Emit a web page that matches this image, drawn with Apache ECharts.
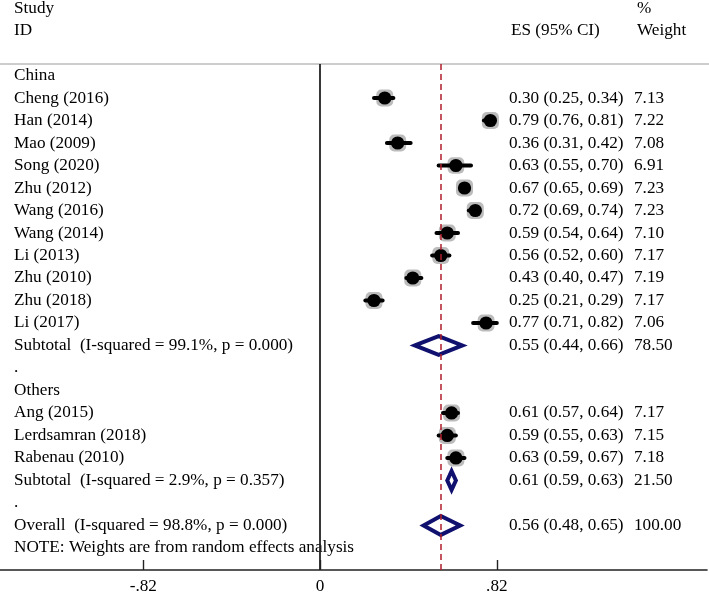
<!DOCTYPE html>
<html>
<head>
<meta charset="utf-8">
<script src="https://cdn.jsdelivr.net/npm/echarts@6/dist/echarts.min.js"></script>
<style>
html,body{margin:0;padding:0;background:#fff;}
#chart{width:709px;height:595px;}
</style>
</head>
<body>
<div id="chart"></div>
<script>
// ---- Data ----
const rowLabels = [
  'China',
  'Cheng (2016)', 'Han (2014)', 'Mao (2009)', 'Song (2020)', 'Zhu (2012)',
  'Wang (2016)', 'Wang (2014)', 'Li (2013)', 'Zhu (2010)', 'Zhu (2018)', 'Li (2017)',
  'Subtotal  (I-squared = 99.1%, p = 0.000)',
  '.',
  'Others',
  'Ang (2015)', 'Lerdsamran (2018)', 'Rabenau (2010)',
  'Subtotal  (I-squared = 2.9%, p = 0.357)',
  '.',
  'Overall  (I-squared = 98.8%, p = 0.000)',
  'NOTE: Weights are from random effects analysis'
];
const studyRows = [1, 2, 3, 4, 5, 6, 7, 8, 9, 10, 11, 15, 16, 17];
const studyES   = [0.30, 0.79, 0.36, 0.63, 0.67, 0.72, 0.59, 0.56, 0.43, 0.25, 0.77, 0.61, 0.59, 0.63];
const studyLo   = [0.25, 0.76, 0.31, 0.55, 0.65, 0.69, 0.54, 0.52, 0.40, 0.21, 0.71, 0.57, 0.55, 0.59];
const studyHi   = [0.34, 0.81, 0.42, 0.70, 0.69, 0.74, 0.64, 0.60, 0.47, 0.29, 0.82, 0.64, 0.63, 0.67];
const studyW    = [7.13, 7.22, 7.08, 6.91, 7.23, 7.23, 7.10, 7.17, 7.19, 7.17, 7.06, 7.17, 7.15, 7.18];

const poolRows = [12, 18, 20];
const poolES   = [0.55, 0.61, 0.56];
const poolLo   = [0.44, 0.59, 0.48];
const poolHi   = [0.66, 0.63, 0.65];
const poolW    = [78.50, 21.50, 100.00];

const tickValues = [-0.82, 0, 0.82];
const tickLabels = ['-.82', '0', '.82'];
const overallES = 0.56;

// ---- Chart ----
const FONT = '"Liberation Serif", "Times New Roman", serif';
const FS = 17.2;
const chart = echarts.init(document.getElementById('chart'), null, {renderer: 'canvas'});

const labelData = rowLabels.map((t, i) => [0, i, t]);
const studyData = studyRows.map((r, i) => [studyES[i], studyLo[i], studyHi[i], r, studyW[i]]);
const poolData = poolRows.map((r, i) => [poolES[i], poolLo[i], poolHi[i], r, poolW[i]]);

function fmtCI(es, lo, hi) {
  return es.toFixed(2) + ' (' + lo.toFixed(2) + ', ' + hi.toFixed(2) + ')';
}
function textEl(x, y, str) {
  return {type: 'text', x: x, y: y, style: {text: str, fill: '#000', font: FS + 'px ' + FONT, textAlign: 'left', textVerticalAlign: 'middle'}};
}

const option = {
  animation: false,
  grid: {left: 0, right: 2, top: 64, bottom: 21, containLabel: false},
  xAxis: {
    type: 'value', min: -1.485, max: 1.795,
    splitLine: {show: false},
    axisLine: {show: true, onZero: false, lineStyle: {color: '#222', width: 1.6}},
    axisTick: {show: true, inside: true, length: 10, lineStyle: {color: '#222', width: 1.4}, customValues: tickValues},
    axisLabel: {show: true, margin: 8, color: '#000', fontFamily: FONT, fontSize: FS,
      customValues: tickValues,
      formatter: function (v) { const i = tickValues.findIndex(t => Math.abs(t - v) < 1e-6); return i >= 0 ? tickLabels[i] : ''; }}
  },
  yAxis: {
    type: 'value', inverse: true, min: -0.512, max: 21.98, show: false
  },
  graphic: [
    {type: 'line', shape: {x1: 0, y1: 64, x2: 709, y2: 64}, style: {stroke: '#bbb', lineWidth: 1.5}},
    {type: 'text', left: 14, top: 0, style: {text: 'Study', font: FS + 'px ' + FONT, fill: '#000'}},
    {type: 'text', left: 14, top: 22, style: {text: 'ID', font: FS + 'px ' + FONT, fill: '#000'}},
    {type: 'text', left: 511, top: 22, style: {text: 'ES (95% CI)', font: FS + 'px ' + FONT, fill: '#000'}},
    {type: 'text', left: 637, top: 0, style: {text: '%', font: FS + 'px ' + FONT, fill: '#000'}},
    {type: 'text', left: 637, top: 22, style: {text: 'Weight', font: FS + 'px ' + FONT, fill: '#000'}}
  ],
  series: [
    {
      type: 'line', data: [], z: 1,
      markLine: {
        silent: true, symbol: 'none', label: {show: false}, animation: false,
        data: [
          {xAxis: 0, lineStyle: {color: '#222', width: 1.8, type: 'solid'}},
          {xAxis: overallES, lineStyle: {color: '#b01e2a', width: 1.5, type: [6, 4]}}
        ]
      }
    },
    {
      type: 'custom', z: 3, clip: false, data: labelData,
      encode: {x: 0, y: 1},
      renderItem: function (params, api) {
        const p = api.coord([0, api.value(1)]);
        return textEl(14, p[1], labelData[params.dataIndex][2]);
      }
    },
    {
      type: 'custom', z: 4, clip: false, data: studyData,
      encode: {x: [0, 1, 2], y: 3},
      renderItem: function (params, api) {
        const es = api.value(0), lo = api.value(1), hi = api.value(2), r = api.value(3), w = api.value(4);
        const p = api.coord([es, r]);
        const pl = api.coord([lo, r]);
        const ph = api.coord([hi, r]);
        const s = 17 * Math.sqrt(w / 7.2);
        return {
          type: 'group',
          children: [
            {type: 'rect', shape: {x: p[0] - s / 2, y: p[1] - s / 2, width: s, height: s, r: 5}, style: {fill: '#bcbcbc'}},
            {type: 'line', shape: {x1: pl[0], y1: p[1], x2: ph[0], y2: p[1]}, style: {stroke: '#000', lineWidth: 4, lineCap: 'round'}},
            {type: 'circle', shape: {cx: p[0], cy: p[1], r: 6.6}, style: {fill: '#000'}},
            textEl(509, p[1], fmtCI(es, lo, hi)),
            textEl(634, p[1], w.toFixed(2))
          ]
        };
      }
    },
    {
      type: 'custom', z: 4, clip: false, data: poolData,
      encode: {x: [0, 1, 2], y: 3},
      renderItem: function (params, api) {
        const es = api.value(0), lo = api.value(1), hi = api.value(2), r = api.value(3), w = api.value(4);
        const p = api.coord([es, r]);
        const pt = api.coord([es, r - 0.42]);
        const pb = api.coord([es, r + 0.42]);
        const pl = api.coord([lo, r]);
        const ph = api.coord([hi, r]);
        return {
          type: 'group',
          children: [
            {type: 'polygon', shape: {points: [[pl[0], p[1]], [p[0], pt[1]], [ph[0], p[1]], [p[0], pb[1]]]},
              style: {fill: 'none', stroke: '#10106e', lineWidth: 4, lineJoin: 'miter'}},
            textEl(509, p[1], fmtCI(es, lo, hi)),
            textEl(634, p[1], w.toFixed(2))
          ]
        };
      }
    }
  ]
};
chart.setOption(option);
</script>
</body>
</html>
